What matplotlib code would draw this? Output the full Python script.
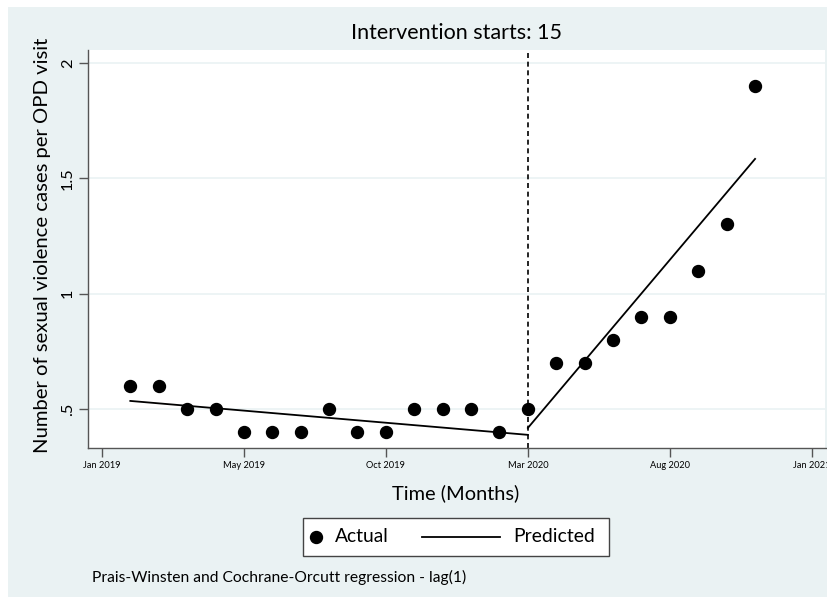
import matplotlib
matplotlib.use("Agg")
import matplotlib.pyplot as plt
from matplotlib.patches import Rectangle
from matplotlib.lines import Line2D

plt.rcParams['font.family'] = ['Lato', 'DejaVu Sans']

# ---- data ----
t_actual = list(range(1, 24))
actual = [0.6, 0.6, 0.5, 0.5, 0.4, 0.4, 0.4, 0.5, 0.4, 0.4, 0.5, 0.5,
          0.5, 0.4, 0.5, 0.7, 0.7, 0.8, 0.9, 0.9, 1.1, 1.3, 1.9]
t_pre = [1, 15]
pred_pre = [0.535, 0.388]
t_post = [15, 23]
pred_post = [0.418, 1.584]
intervention = 15
xtick_pos = [0, 5, 10, 15, 20, 25]
xtick_labels = ["Jan 2019", "May 2019", "Oct 2019", "Mar 2020", "Aug 2020", "Jan 2021"]
ytick_pos = [0.5, 1.0, 1.5, 2.0]
ytick_labels = [".5", "1", "1.5", "2"]

BG = "#EAF2F3"
W, H = 828, 597
fig = plt.figure(figsize=(W / 100, H / 100), dpi=100)
fig.patch.set_facecolor("white")
fig.patches.append(Rectangle((8 / W, 0), 1 - 8 / W, 1 - 7 / H, transform=fig.transFigure,
                             facecolor=BG, edgecolor="none", zorder=-10))

ax = fig.add_axes([88 / W, 1 - 448 / H, (825.5 - 88) / W, (448 - 50) / H])
ax.set_facecolor("white")
ax.set_xlim(-0.49, 25.48)
ax.set_ylim(0.331, 2.056)

for y in ytick_pos:
    ax.axhline(y, color=BG, lw=1.2, zorder=0)

ax.plot(t_pre, pred_pre, color="black", lw=1.3, zorder=3)
ax.plot(t_post, pred_post, color="black", lw=1.3, zorder=3)
ax.plot(t_actual, actual, linestyle="none", marker="o", markersize=8.6,
        color="black", zorder=4)
ax.axvline(intervention, color="black", lw=1.2, linestyle=(0, (3, 2.2)), zorder=2)

for s in ["top", "right"]:
    ax.spines[s].set_visible(False)
for s in ["left", "bottom"]:
    ax.spines[s].set_color("#555555")
    ax.spines[s].set_linewidth(1.0)

ax.set_xticks(xtick_pos)
ax.set_xticklabels(xtick_labels, fontsize=5.8)
ax.set_yticks(ytick_pos)
ax.set_yticklabels(ytick_labels, fontsize=11, rotation=90, va="center")
ax.tick_params(axis="both", colors="#555555", length=6.3, width=1.0)
ax.tick_params(axis="x", labelcolor="black", pad=3)
ax.tick_params(axis="y", labelcolor="black", pad=3)

xl = ax.set_xlabel("Time (Months)", fontsize=11.5)
yl = ax.set_ylabel("Number of sexual violence cases per OPD visit", fontsize=11.5)
ax.xaxis.set_label_coords(456 / W, 1 - 493 / H, transform=fig.transFigure)
ax.yaxis.set_label_coords(43 / W, 1 - 245 / H, transform=fig.transFigure)
xl.set_va("center")
yl.set_va("center")

title = fig.text(457 / W, 1 - 33 / H, "Intervention starts: 15", ha="center", va="center",
                 fontsize=12.5)

# legend box
lx0, lx1, ly0, ly1 = 303, 609, 518, 556
fig.patches.append(Rectangle((lx0 / W, 1 - ly1 / H), (lx1 - lx0) / W, (ly1 - ly0) / H,
                             transform=fig.transFigure, facecolor="white",
                             edgecolor="#444444", lw=1.0))
ly = 1 - 537 / H
fig.lines.append(Line2D([316 / W], [ly], marker="o", markersize=8.6, color="black",
                        transform=fig.transFigure))
t_act = fig.text(335 / W, ly, "Actual", ha="left", va="center", fontsize=12.5)
fig.lines.append(Line2D([422 / W, 500 / W], [ly, ly], color="black", lw=1.3,
                        transform=fig.transFigure))
t_pred = fig.text(513 / W, ly, "Predicted", ha="left", va="center", fontsize=12.5)

cap = fig.text(92 / W, 1 - 577 / H, "Prais-Winsten and Cochrane-Orcutt regression - lag(1)",
               ha="left", va="center", fontsize=8.5)

# fit font sizes to measured text extents of the reference (pixels)
fig.canvas.draw()
r = fig.canvas.get_renderer()


def fit(txt, target, vertical=False):
    bb = txt.get_window_extent(r)
    cur = bb.height if vertical else bb.width
    txt.set_fontsize(txt.get_fontsize() * target / cur)


fit(title, 210)
fit(cap, 373)
fit(t_act, 54)
fit(t_pred, 82)
fit(xl, 128)
fit(yl, 415, vertical=True)
for lab in ax.get_xticklabels():
    if lab.get_text() == "Jan 2019":
        fs = lab.get_fontsize() * 37 / lab.get_window_extent(r).width
for lab in ax.get_xticklabels():
    lab.set_fontsize(fs)
for lab in ax.get_yticklabels():
    if lab.get_text() == "1.5":
        fsy = lab.get_fontsize() * 23 / lab.get_window_extent(r).height
for lab in ax.get_yticklabels():
    lab.set_fontsize(fsy)

fig.savefig("out.png", dpi=100, facecolor=fig.get_facecolor())
